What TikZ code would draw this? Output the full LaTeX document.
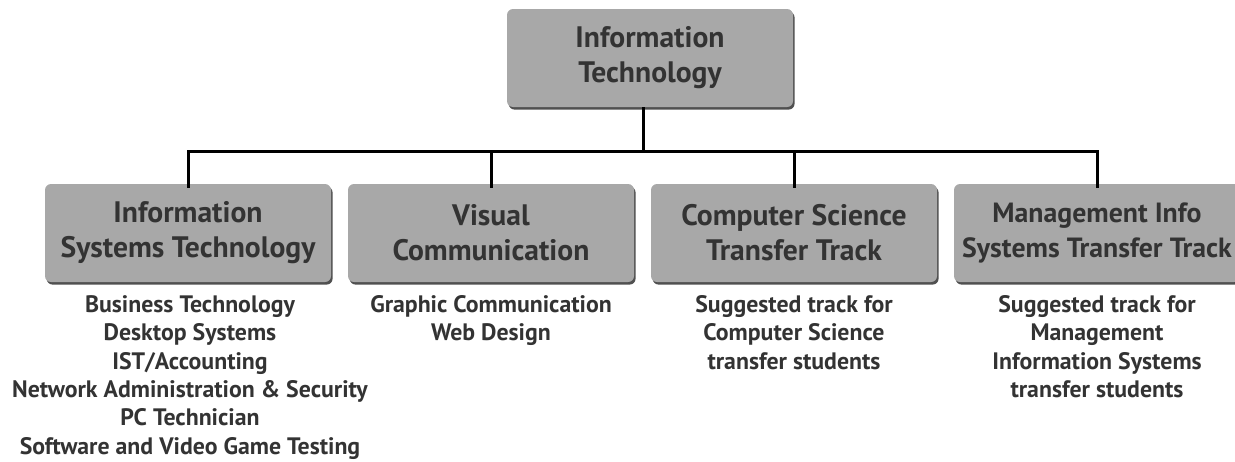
\documentclass[tikz,border=0pt]{standalone}
\usepackage{fontspec}
\setmainfont{PT Sans}
\usetikzlibrary{shadows}
\definecolor{boxgray}{RGB}{168,168,168}
\definecolor{edgegray}{RGB}{80,80,80}
\begin{document}
\begin{tikzpicture}[x=0.5pt, y=-0.5pt,
    trackbox/.style={draw=none, fill=boxgray, rounded corners=3pt,
        minimum width=143pt, minimum height=49pt, align=center, text=black!80,
        font=\bfseries\fontsize{14.8}{17.5}\selectfont,
        drop shadow={shadow xshift=0.8pt, shadow yshift=-1.3pt, opacity=1, fill=edgegray}},
    courses/.style={anchor=north, align=center, inner sep=0pt, text=black!80,
        font=\bfseries\fontsize{11.9}{14.2}\selectfont},
    link/.style={line width=1.5pt}]
    \useasboundingbox (0,0) rectangle (1235,461);

    \node[trackbox] (it) at (650,58) {Information\\Technology};

    \node[trackbox] (ist) at (188,233) {Information\\Systems Technology};
    \node[trackbox] (vc) at (491,233) {Visual\\Communication};
    \node[trackbox] (cs) at (794,233) {Computer Science\\Transfer Track};
    \node[trackbox, font=\bfseries\fontsize{13.9}{17.5}\selectfont] (mis) at (1097,233) {Management Info\\Systems Transfer Track};

    \node[courses] (istlist) at (190,295) {Business Technology\\Desktop Systems\\IST/Accounting\\Network Administration \& Security\\PC Technician\\Software and Video Game Testing};
    \node[courses] (vclist) at (491,295) {Graphic Communication\\Web Design};
    \node[courses] (cslist) at (794,295) {Suggested track for\\Computer Science\\transfer students};
    \node[courses] (mislist) at (1097,295) {Suggested track for\\Management\\Information Systems\\transfer students};

    % tree lines
    \coordinate (hub) at (643,151);
    \draw[link] ([xshift=-3.5pt]it.south) -- ([xshift=-3.5pt]it.south |- hub);
    \draw[link] ([yshift=-2pt]ist.north) |- (hub) -| ([yshift=-2pt]mis.north);
    \foreach \t in {vc, cs}{
        \draw[link] ([yshift=-2pt]\t.north) -- (\t.north |- hub);
    }
\end{tikzpicture}
\end{document}
